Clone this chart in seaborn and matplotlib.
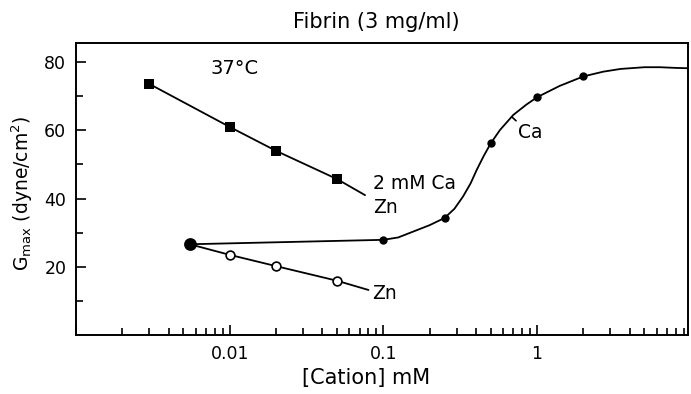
import matplotlib
matplotlib.use("Agg")
import matplotlib.pyplot as plt
from matplotlib.ticker import LogLocator, FixedLocator, NullFormatter
import seaborn as sns
import pandas as pd

# Ca titration (filled circles), mM vs dyne/cm2
ca_x = [0.1, 0.25, 0.5, 1.0, 2.0]
ca_y = [27.9, 34.3, 56.2, 69.7, 75.9]

# hand-drawn Ca curve
ca_curve_x = [0.0055, 0.1, 0.125, 0.156, 0.2, 0.25, 0.29, 0.33, 0.37, 0.405,
              0.45, 0.5, 0.574, 0.7, 0.85, 1.0, 1.4, 2.0, 2.7, 3.5, 5.0, 6.3, 8.0, 9.6]
ca_curve_y = [26.6, 27.9, 28.6, 30.3, 32.2, 34.3, 37.0, 40.6, 44.5, 48.4,
              52.5, 56.2, 60.1, 64.5, 67.5, 69.7, 73.0, 75.8, 77.2, 78.0, 78.5, 78.5, 78.3, 78.2]

# no-cation reference point
base_x = [0.0055]
base_y = [26.6]

# Zn alone (open circles)
zn_x = [0.01, 0.02, 0.05]
zn_y = [23.5, 20.2, 15.9]
zn_line_x = [0.0055, 0.01, 0.02, 0.05, 0.08]
zn_line_y = [26.6, 23.5, 20.2, 15.9, 13.2]

# Zn with 2 mM Ca (filled squares)
znca_x = [0.003, 0.01, 0.02, 0.05]
znca_y = [73.6, 61.0, 54.0, 45.7]
znca_line_x = [0.003, 0.01, 0.02, 0.05, 0.076]
znca_line_y = [73.6, 61.0, 54.0, 45.7, 41.0]

sns.set_style("ticks")
plt.rcParams["font.family"] = ["DejaVu Sans"]
for key in ["text.color", "axes.labelcolor", "xtick.color", "ytick.color", "axes.edgecolor"]:
    plt.rcParams[key] = "black"

fig = plt.figure(figsize=(6.91, 3.94), dpi=100)
W, H = 691, 394
ax = fig.add_axes([76 / W, 1 - 335 / H, (688 - 76) / W, (335 - 43) / H])

lw = 1.3
sns.lineplot(data=pd.DataFrame({"x": ca_curve_x, "y": ca_curve_y}), x="x", y="y",
             color="black", lw=lw, ax=ax)
sns.lineplot(data=pd.DataFrame({"x": zn_line_x, "y": zn_line_y}), x="x", y="y",
             color="black", lw=lw, ax=ax)
sns.lineplot(data=pd.DataFrame({"x": znca_line_x, "y": znca_line_y}), x="x", y="y",
             color="black", lw=lw, ax=ax)

sns.scatterplot(x=ca_x, y=ca_y, color="black", marker="o", s=36, linewidth=0, ax=ax, zorder=5)
sns.scatterplot(x=base_x, y=base_y, color="black", marker="o", s=85, linewidth=0, ax=ax, zorder=5)
sns.scatterplot(x=zn_x, y=zn_y, facecolor="white", edgecolor="black", marker="o", s=40,
                linewidth=1.2, ax=ax, zorder=5)
sns.scatterplot(x=znca_x, y=znca_y, color="black", marker="s", s=42, linewidth=0, ax=ax, zorder=5)

ax.set_xscale("log")
ax.set_xlim(0.001, 9.6)
ax.set_ylim(0, 85.6)
ax.set_xlabel("")
ax.set_ylabel("")

ax.xaxis.set_major_locator(FixedLocator([0.001, 0.01, 0.1, 1]))
ax.set_xticklabels(["", "0.01", "0.1", "1"])
ax.xaxis.set_minor_locator(LogLocator(base=10, subs=range(2, 10), numticks=20))
ax.xaxis.set_minor_formatter(NullFormatter())
ax.set_yticks([20, 40, 60, 80])
ax.set_yticks([10, 30, 50, 70], minor=True)

ax.tick_params(which="both", direction="in", width=1.2, labelsize=12.5, pad=7,
               top=False, right=False, colors="black")
ax.tick_params(which="major", length=7)
ax.tick_params(which="minor", length=5)
for sp in ax.spines.values():
    sp.set_linewidth(1.4)
    sp.set_color("black")
    sp.set_visible(True)

fig.text(376 / W, 1 - 22 / H, "Fibrin (3 mg/ml)", ha="center", va="center", fontsize=15)
fig.text(22 / W, 1 - 193 / H, r"G$_{\rm max}$ (dyne/cm$^2$)", ha="center", va="center",
         rotation=90, fontsize=13.5)
fig.text(366 / W, 1 - 378 / H, "[Cation] mM", ha="center", va="center", fontsize=15)

ax.text(0.0108, 78, "37°C", ha="center", va="center", fontsize=14)
ax.text(0.086, 44.5, "2 mM Ca", ha="left", va="center", fontsize=13.5)
ax.text(0.086, 37.5, "Zn", ha="left", va="center", fontsize=13.5)
ax.text(0.084, 12.3, "Zn", ha="left", va="center", fontsize=13.5)
ax.text(0.75, 59.5, "Ca", ha="left", va="center", fontsize=13.5)
ax.plot([0.687, 0.73], [63.9, 62.8], color="black", lw=1.2)

fig.savefig("out.png", dpi=100)
